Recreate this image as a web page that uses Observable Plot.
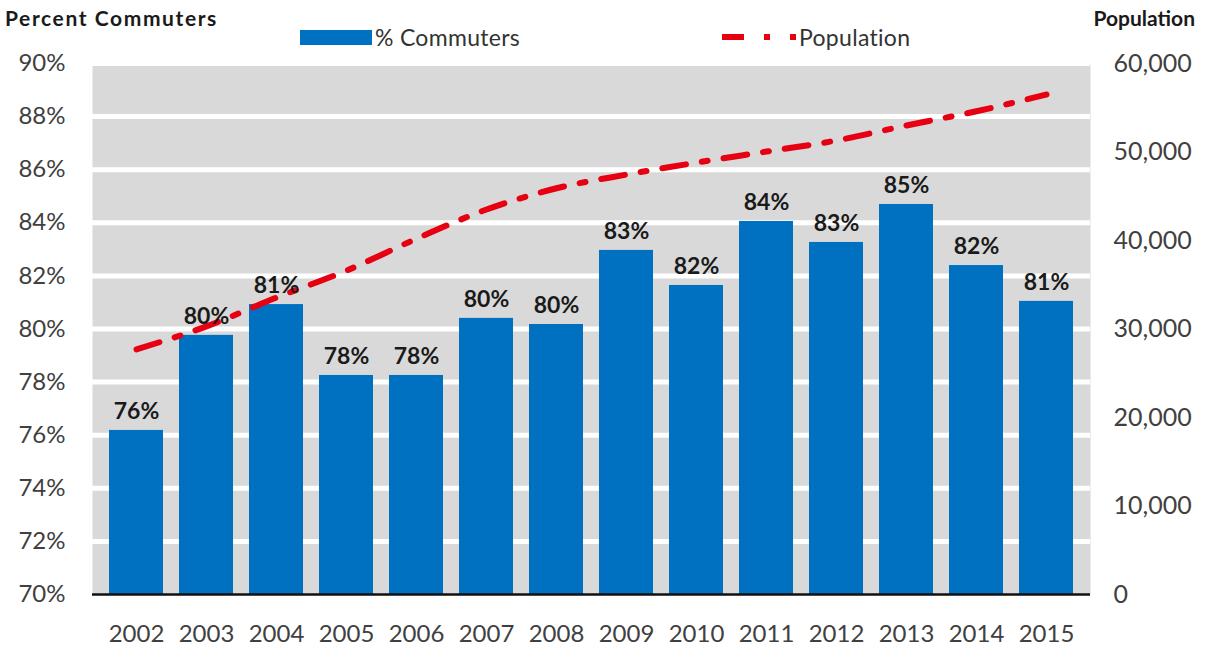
<!DOCTYPE html>
<html>
<head>
<meta charset="utf-8">
<script src="https://cdn.jsdelivr.net/npm/d3@7"></script>
<script src="https://cdn.jsdelivr.net/npm/@observablehq/plot@0.6"></script>
<style>
  html, body { margin: 0; padding: 0; background: #fff; }
  body { width: 1207px; height: 646px; overflow: hidden; font-family: Lato, "Open Sans", sans-serif; color: #404040; }
  #header { position: relative; width: 1207px; height: 48px; }
  .axtitle { position: absolute; top: 5px; font-weight: bold; font-size: 21px; color: #1a1a1a; }
  .leg { position: absolute; top: 23px; font-size: 23px; color: #333; display: flex; align-items: center; gap: 3px; letter-spacing: 0.3px; }
</style>
</head>
<body>
<div id="header">
  <div class="axtitle" style="left:5px; letter-spacing:1.6px;">Percent Commuters</div>
  <div class="axtitle" style="right:12px;">Population</div>
  <div class="leg" style="left:300px;"><span style="display:inline-block;width:72px;height:15px;background:#0070c0;"></span><span>% Commuters</span></div>
  <div class="leg" style="left:720px;"><svg width="76" height="16"><line x1="2" y1="8" x2="76" y2="8" stroke="#e60012" stroke-width="6" stroke-dasharray="22 20 6 20 6 20"></line></svg><span>Population</span></div>
</div>
<div id="chart"></div>
<script>
const years = ["2002","2003","2004","2005","2006","2007","2008","2009","2010","2011","2012","2013","2014","2015"];
const commuters = [76.18, 79.76, 80.92, 78.25, 78.25, 80.40, 80.17, 82.96, 81.64, 84.05, 83.26, 84.69, 82.39, 81.04];
const population = [27700, 30300, 33550, 36600, 40200, 43500, 45900, 47450, 48800, 50050, 51300, 53000, 54600, 56500];
const pctTicks = [70, 72, 74, 76, 78, 80, 82, 84, 86, 88, 90];
const popTicks = [0, 10000, 20000, 30000, 40000, 50000, 60000];

const pctMin = 70, pctMax = 90, popMax = 60000;
const popToPct = p => pctMin + p / popMax * (pctMax - pctMin);
const pctToPop = v => (v - pctMin) / (pctMax - pctMin) * popMax;

const rows = years.map((y, i) => ({year: y, pct: commuters[i], pop: population[i], popPct: popToPct(population[i])}));

const chart = Plot.plot({
  width: 1207,
  height: 598,
  marginLeft: 92,
  marginRight: 117,
  marginTop: 15,
  marginBottom: 52,
  style: {fontFamily: "Lato, 'Open Sans', sans-serif", fontSize: "24px", color: "#404040", background: "#fff"},
  x: {domain: years, padding: 0.23, label: null},
  y: {domain: [pctMin, pctMax], label: null},
  marks: [
    Plot.frame({fill: "#d9d9d9", stroke: null}),
    Plot.ruleY(pctTicks.slice(1), {stroke: "#ffffff", strokeWidth: 5}),
    Plot.barY(rows, {x: "year", y1: pctMin, y2: "pct", fill: "#0070c0"}),
    Plot.ruleY([pctMin], {stroke: "#111", strokeWidth: 2.5}),
    Plot.line(rows, {x: "year", y: "popPct", stroke: "#e60012", strokeWidth: 6, strokeDasharray: "24 16 6 16", curve: "monotone-x"}),
    Plot.text(rows, {x: "year", y: "pct", text: d => Math.round(d.pct) + "%", dy: -19, fontWeight: "bold", fontSize: 23, fill: "#1a1a1a"}),
    Plot.axisY({anchor: "left", ticks: pctTicks, tickFormat: d => d + "%", tickSize: 0, tickPadding: 27, label: null, fontSize: 24}),
    Plot.axisY({anchor: "right", ticks: popTicks.map(popToPct), tickFormat: v => d3.format(",")(Math.round(pctToPop(v))), tickSize: 0, tickPadding: 23, label: null, fontSize: 25}),
    Plot.axisX({tickSize: 0, tickPadding: 30, label: null, fontSize: 24})
  ]
});
document.getElementById("chart").appendChild(chart);
</script>
</body>
</html>
